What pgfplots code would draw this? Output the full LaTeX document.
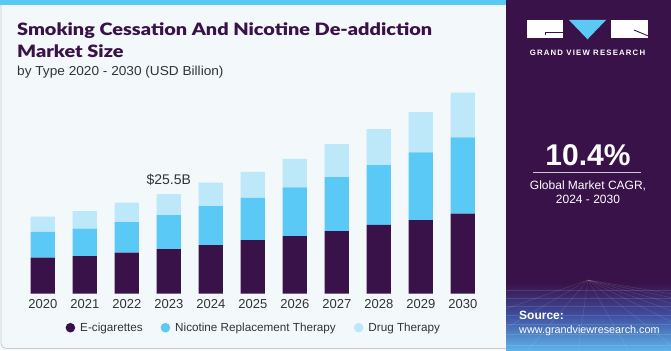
\documentclass[border=0pt]{standalone}
\usepackage{fontspec}
\setmainfont{Liberation Sans}
\IfFontExistsTF{Lato Black}{\newfontfamily\titlefont{Lato Black}[FakeStretch=1.17]}{\newfontfamily\titlefont{Liberation Sans}[UprightFont=*-Bold,FakeStretch=1.08]}
\newfontfamily\logofont{Liberation Sans}[LetterSpace=15]
\newfontfamily\subfont{Liberation Sans}[FakeStretch=1.05]
\usepackage{pgfplots}
\usepackage{pgfplotstable}
\pgfplotsset{compat=1.18}
\definecolor{ecig}{HTML}{3A124A}
\definecolor{nrt}{HTML}{5BC9F6}
\definecolor{drug}{HTML}{BDE8F9}
\definecolor{panel}{HTML}{3A124A}
\definecolor{txt}{HTML}{333333}
\definecolor{bg}{HTML}{F3F8FB}
\definecolor{midblue}{HTML}{3E4E9E}
\definecolor{lowblue}{HTML}{5DB2EA}
\pgfplotstableread{
x ecig nrt drug
0 9.2 6.6 3.9
1 9.6 7.0 4.5
2 10.5 7.8 5.0
3 11.4 8.7 5.4
4 12.4 10.0 6.0
5 13.7 10.8 6.7
6 14.7 12.5 7.3
7 16.0 13.8 8.5
8 17.6 15.3 9.2
9 18.8 17.4 10.3
10 20.5 19.5 11.5
}\datatable
\begin{document}
\begin{tikzpicture}[x=1bp,y=1bp]
% backgrounds
\fill[bg] (0,0) rectangle (506,350);
\draw[black!20, line width=0.8bp, rounded corners=5bp] (1,1.5) rectangle (520,349);
\fill[nrt] (0,345) rectangle (506,350);
\fill[panel] (506,0) rectangle (671,350);
\shade[top color=panel, bottom color=midblue] (506,35) rectangle (671,67);
\shade[top color=midblue, bottom color=lowblue] (506,0) rectangle (671,35.2);
\begin{scope}[white, opacity=0.12, line width=0.5bp]
\foreach \yy in {60,52,44,35,26,16,5} {\draw (506,\yy) -- (671,\yy);}
\foreach \xx in {-200,-120,-60,-10,40,90,140,190,250,330,420} {\draw (588,70) -- (588+\xx,0);}
\end{scope}
% logo
\fill[white] (527,311.7) rectangle (563.3,330);
\fill[nrt] (569,330) -- (606,330) -- (587.5,310.7) -- cycle;
\fill[white] (610.7,311.7) rectangle (647.7,330);
\draw[panel, line width=0.9bp] (545,315) -- (545,317.7) -- (563.3,317.7);
\draw[panel, line width=0.9bp] (634,320) -- (647.7,314.3);
\node[anchor=base, inner sep=0, text=white] at (587.5,294.5) {\logofont\bfseries\fontsize{7.8bp}{9bp}\selectfont GRAND VIEW RESEARCH};
% right panel text
\node[anchor=base, inner sep=0, text=white] at (588,185) {\bfseries\fontsize{30bp}{32bp}\selectfont 10.4\%};
\draw[white!75!panel, line width=0.8bp] (533,177.3) -- (641,177.3);
\node[anchor=base, inner sep=0, text=white] at (588,161) {\fontsize{12bp}{14bp}\selectfont Global Market CAGR,};
\node[anchor=base, inner sep=0, text=white] at (588,146.5) {\fontsize{12bp}{14bp}\selectfont 2024 - 2030};
\node[anchor=base west, inner sep=0, text=white] at (519,31) {\bfseries\fontsize{12bp}{14bp}\selectfont Source:};
\node[anchor=base west, inner sep=0, text=white] at (519,16.7) {\fontsize{10.8bp}{13bp}\selectfont www.grandviewresearch.com};
% titles
\node[anchor=base west, inner sep=0, text=panel] at (17,314.3) {\titlefont\fontsize{17bp}{20bp}\selectfont Smoking Cessation And Nicotine De-addiction};
\node[anchor=base west, inner sep=0, text=panel] at (17,292.7) {\titlefont\fontsize{17bp}{20bp}\selectfont Market Size};
\node[anchor=base west, inner sep=0, text=txt] at (17,274.5) {\subfont\fontsize{13bp}{15bp}\selectfont by Type 2020 - 2030 (USD Billion)};
\begin{axis}[
  at={(5bp,56.5bp)}, anchor=south west,
  scale only axis, width=495.6bp, height=214.6bp,
  xmin=-0.9, xmax=10.9, ymin=0, ymax=55,
  ybar stacked, bar width=24.3bp,
  axis line style={draw=none}, major tick length=0pt,
  ytick=\empty,
  xtick={0,...,10},
  xticklabels={2020,2021,2022,2023,2024,2025,2026,2027,2028,2029,2030},
  xticklabel style={font=\fontsize{13bp}{15bp}\selectfont, text=txt, anchor=base, yshift=-14.8bp},
  clip=false,
  legend columns=3,
  legend style={at={(axis description cs:0.1219,-0.1594)}, anchor=west, draw=none, fill=none, inner sep=0pt,
    font=\fontsize{11.7bp}{14bp}\selectfont, text=txt,
    nodes={inner sep=2bp},
    /tikz/every odd column/.append style={column sep=3bp},
    /tikz/every even column/.append style={column sep=16bp}},
  legend cell align=left,
]
\addplot[fill=ecig, draw=none, legend image code/.code={\fill[ecig] (0bp,0bp) circle (4.8bp);}] table[x=x,y=ecig] {\datatable};
\addplot[fill=nrt, draw=none, legend image code/.code={\fill[nrt] (0bp,0bp) circle (4.8bp);}] table[x=x,y=nrt] {\datatable};
\addplot[fill=drug, draw=none, legend image code/.code={\fill[drug] (0bp,0bp) circle (4.8bp);}] table[x=x,y=drug] {\datatable};
\legend{E-cigarettes, Nicotine Replacement Therapy, Drug Therapy}
\node[anchor=base, inner sep=0, text=txt, font=\fontsize{14bp}{16bp}\selectfont] at (axis cs:3,25.5) [yshift=10bp] {\$25.5B};
\end{axis}
\pgfresetboundingbox
\path[use as bounding box] (0,0) rectangle (671,350);
\end{tikzpicture}
\end{document}
